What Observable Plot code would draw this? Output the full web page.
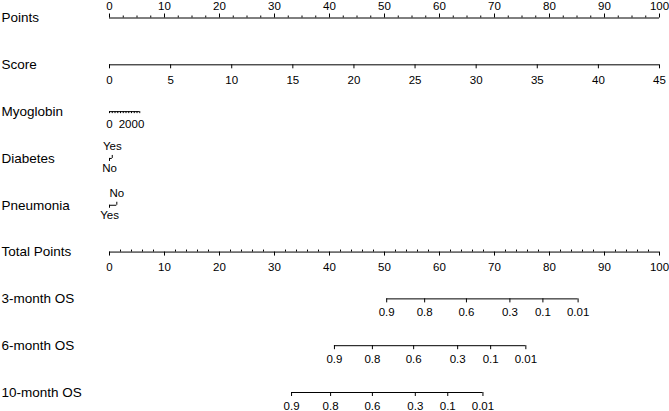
<!DOCTYPE html>
<html><head><meta charset="utf-8">
<script src="https://cdn.jsdelivr.net/npm/d3@7"></script>
<script src="https://cdn.jsdelivr.net/npm/@observablehq/plot@0.6"></script>
<style>body{margin:0;background:#fff;} #chart svg{display:block;}</style>
</head><body><div id="chart"></div>
<script>
// ---- data ----
const rowLabels = ["Points", "Score", "Myoglobin", "Diabetes", "Pneumonia", "Total Points", "3-month OS", "6-month OS", "10-month OS"];

const pointsTicks = [0, 10, 20, 30, 40, 50, 60, 70, 80, 90, 100];
const pointsMinor = [2.5, 5, 7.5, 12.5, 15, 17.5, 22.5, 25, 27.5, 32.5, 35, 37.5, 42.5, 45, 47.5, 52.5, 55, 57.5, 62.5, 65, 67.5, 72.5, 75, 77.5, 82.5, 85, 87.5, 92.5, 95, 97.5];

const scoreTicks = [0, 5, 10, 15, 20, 25, 30, 35, 40, 45];
const scoreMaxPoints = 100;   // score 45 -> 100 points
const scoreMax = 45;

const myoglobinTicks = [0, 250, 500, 750, 1000, 1250, 1500, 1750, 2000, 2250, 2500, 2750];
const myoglobinLabels = [0, 2000];
const myoglobinPointsPerUnit = 0.002; // 2000 -> 4 points

const diabetesLevels = ["No", "Yes"];
const diabetesPoints = [0, 0.5];
const diabetesSide = ["below", "above"];

const pneumoniaLevels = ["Yes", "No"];
const pneumoniaPoints = [0, 1.33];
const pneumoniaSide = ["below", "above"];

const totalTicks = [0, 10, 20, 30, 40, 50, 60, 70, 80, 90, 100];
const totalMinor = [2, 4, 6, 8, 12, 14, 16, 18, 22, 24, 26, 28, 32, 34, 36, 38, 42, 44, 46, 48, 52, 54, 56, 58, 62, 64, 66, 68, 72, 74, 76, 78, 82, 84, 86, 88, 92, 94, 96, 98];

const osProbs = [0.9, 0.8, 0.6, 0.3, 0.1, 0.01];
const os3Points = [50.4, 57.3, 64.9, 72.8, 78.8, 85.2];
const os6Points = [40.9, 47.8, 55.3, 63.3, 69.3, 75.7];
const os10Points = [33.1, 40.2, 47.8, 55.6, 61.5, 67.9];

// ---- build tables ----
const segs = [];
const ticksUp = [], ticksDown = [], minorUp = [], minorDown = [];
const labAbove = [], labBelow = [], labOS = [];

// Points
segs.push({row: "Points", x1: 0, x2: 100});
pointsTicks.forEach(v => { ticksUp.push({row: "Points", x: v}); labAbove.push({row: "Points", x: v, t: String(v)}); });
pointsMinor.forEach(v => minorUp.push({row: "Points", x: v}));

// Score
const sc = v => v / scoreMax * scoreMaxPoints;
segs.push({row: "Score", x1: sc(scoreTicks[0]), x2: sc(scoreTicks[scoreTicks.length - 1])});
scoreTicks.forEach(v => { ticksDown.push({row: "Score", x: sc(v)}); labBelow.push({row: "Score", x: sc(v), t: String(v)}); });

// Myoglobin
const mg = v => v * myoglobinPointsPerUnit;
segs.push({row: "Myoglobin", x1: mg(myoglobinTicks[0]), x2: mg(myoglobinTicks[myoglobinTicks.length - 1])});
const myoTicks = myoglobinTicks.map(v => ({row: "Myoglobin", x: mg(v)}));
const myoLabs = myoglobinLabels.map(v => ({row: "Myoglobin", x: mg(v), t: String(v)}));

// Categorical
const catTicks = [], catLabs = [];
[["Diabetes", diabetesLevels, diabetesPoints, diabetesSide], ["Pneumonia", pneumoniaLevels, pneumoniaPoints, pneumoniaSide]].forEach(([row, lv, pts, side]) => {
  segs.push({row, x1: d3.min(pts), x2: d3.max(pts)});
  lv.forEach((l, i) => {
    catTicks.push({row, x: pts[i], side: side[i]});
    catLabs.push({row, x: pts[i], t: l, side: side[i]});
  });
});

// Total points
segs.push({row: "Total Points", x1: 0, x2: 100});
totalTicks.forEach(v => { ticksDown.push({row: "Total Points", x: v}); labBelow.push({row: "Total Points", x: v, t: String(v)}); });
totalMinor.forEach(v => minorUp.push({row: "Total Points", x: v}));

// OS
[["3-month OS", os3Points], ["6-month OS", os6Points], ["10-month OS", os10Points]].forEach(([row, pts]) => {
  segs.push({row, x1: d3.min(pts), x2: d3.max(pts)});
  pts.forEach((p, i) => { ticksDown.push({row, x: p}); labOS.push({row, x: p, t: String(osProbs[i])}); });
});

const font = "'Liberation Sans', Arial, sans-serif";
const ink = "#000";

const chart = Plot.plot({
  width: 669,
  height: 411,
  marginLeft: 0, marginRight: 0, marginTop: 0, marginBottom: 0,
  style: {fontFamily: font, background: "#fff", color: ink},
  x: {domain: [0, 100], range: [109, 659], axis: null},
  y: {type: "band", domain: rowLabels, range: [17.5, 392], paddingInner: 1, paddingOuter: 0, align: 0.5, round: false, axis: null},
  marks: [
    Plot.ruleY(segs, {y: "row", x1: "x1", x2: "x2", stroke: ink, strokeWidth: 1}),
    Plot.tickX(ticksUp, {x: "x", y: "row", insetTop: -4, insetBottom: 0, stroke: ink}),
    Plot.tickX(ticksDown, {x: "x", y: "row", insetTop: 0, insetBottom: -4, stroke: ink}),
    Plot.tickX(minorUp, {x: "x", y: "row", insetTop: -2, insetBottom: 0, stroke: ink}),
    Plot.tickX(minorDown, {x: "x", y: "row", insetTop: 0, insetBottom: -2, stroke: ink}),
    Plot.tickX(myoTicks, {x: "x", y: "row", insetTop: 0, insetBottom: -2, stroke: ink}),
    Plot.tickX(catTicks.filter(d => d.side === "above"), {x: "x", y: "row", insetTop: -3, insetBottom: 0, stroke: ink}),
    Plot.tickX(catTicks.filter(d => d.side === "below"), {x: "x", y: "row", insetTop: 0, insetBottom: -3, stroke: ink}),
    Plot.text(labAbove, {x: "x", y: "row", text: "t", dy: -11.5, fontSize: 11.5, fill: ink}),
    Plot.text(labBelow, {x: "x", y: "row", text: "t", dy: 15, fontSize: 11.5, fill: ink}),
    Plot.text(labOS, {x: "x", y: "row", text: "t", dy: 13.5, fontSize: 11.5, fill: ink}),
    Plot.text(myoLabs, {x: "x", y: "row", text: "t", dy: 12.5, fontSize: 11.5, fill: ink}),
    Plot.text(catLabs.filter(d => d.side === "above"), {x: "x", y: "row", text: "t", dy: -12, fontSize: 11.5, fill: ink}),
    Plot.text(catLabs.filter(d => d.side === "below"), {x: "x", y: "row", text: "t", dy: 10, fontSize: 11.5, fill: ink}),
    Plot.text(rowLabels, {y: d => d, text: d => d, frameAnchor: "left", textAnchor: "start", dx: 1, fontSize: 13.5, fill: ink})
  ]
});
document.getElementById("chart").appendChild(chart);
</script>
</body></html>
